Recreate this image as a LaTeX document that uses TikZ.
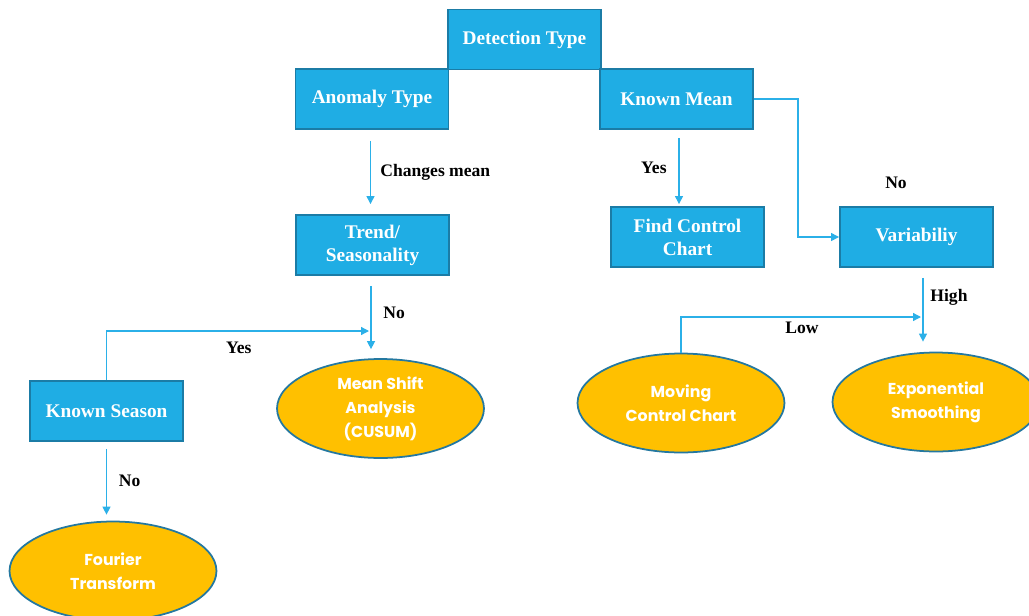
\documentclass[tikz,border=0pt]{standalone}
\usepackage{fontspec}
\setmainfont{Liberation Serif}
\newfontfamily\roundfont{Poppins}
\usetikzlibrary{arrows.meta,positioning,shapes.geometric}
\definecolor{skyfill}{HTML}{1FADE4}
\definecolor{skyedge}{HTML}{1B7CA6}
\definecolor{goldfill}{HTML}{FFC000}
\definecolor{goldedge}{HTML}{2478A0}
\definecolor{linkblue}{HTML}{2BB0E8}
\tikzset{
  stepbox/.style={
    rectangle, draw=skyedge, fill=skyfill, line width=1.1pt,
    minimum width=3.06cm, minimum height=1.2cm,
    text=white, font=\fontsize{11}{13}\selectfont\bfseries,
    align=center, inner sep=2pt
  },
  resultell/.style={
    ellipse, draw=goldedge, fill=goldfill, line width=1pt,
    minimum width=4.14cm, minimum height=1.98cm,
    text=white, font=\roundfont\fontsize{9}{13.6}\selectfont\bfseries,
    align=center, inner sep=0pt
  },
  flow/.style={
    -{Triangle[length=4.5pt,width=4.5pt]}, color=linkblue, line width=0.75pt
  },
  tag/.style={text=black, font=\fontsize{10}{12}\selectfont\bfseries, inner sep=1pt},
}
\begin{document}
\begin{tikzpicture}[x=0.02cm, y=-0.02cm]
    \clip (0,0) rectangle (1029,616);
    % decision boxes
    \node[stepbox] (detect) at (524.5,39.5) {Detection Type};
    \node[stepbox] (anomaly) at (372,99) {Anomaly Type};
    \node[stepbox] (knownmean) at (676.5,99) {Known Mean};
    \node[stepbox] (trend) at (372.5,245) {Trend/\\Seasonality};
    \node[stepbox] (findchart) at (687.5,237) {Find Control\\Chart};
    \node[stepbox] (variab) at (916.5,237) {Variabiliy};
    \node[stepbox] (knownseason) at (106.5,411) {Known Season};
    % methods
    \node[resultell] (meanshift) at (380.5,408.5) {Mean Shift\\Analysis\\(CUSUM)};
    \node[resultell] (fourier) at (113,571) {Fourier\\Transform};
    \node[resultell] (moving) at (681,403) {Moving\\Control Chart};
    \node[resultell] (expsmooth) at (936,402) {Exponential\\Smoothing};
    % helper points on the vertical lines
    \coordinate (joinA) at (371,331);
    \coordinate (meanfoot) at ([xshift=0.05cm]knownmean.south);
    \coordinate (varfoot) at ([xshift=0.13cm]variab.south);
    \coordinate (joinB) at (923,317);

    \draw[flow, shorten <=0.22cm, shorten >=0.2cm] ([xshift=-0.03cm]anomaly.south) -- ([xshift=-0.03cm]anomaly.south |- trend.north)
        node[tag, midway, right=0.15cm] (lblmean) {Changes mean};
    \draw[flow, shorten <=0.16cm, shorten >=0.04cm] (meanfoot) -- (meanfoot |- findchart.north)
        node[tag, midway, left=0.2cm] (lblyesA) {Yes};
    \draw[flow] (knownmean.east) -- ++(44,0) |- (variab.west);
    \node[tag] (lblnoA) at (896,183) {No};
    \draw[flow, shorten <=0.2cm, shorten >=0.18cm] ([xshift=-0.03cm]trend.south) -- ([xshift=-0.03cm]trend.south |- meanshift.north)
        node[tag, pos=0.45, right=0.2cm] (lblnoB) {No};
    \draw[flow, shorten >=0.04cm] (knownseason.north) |- (joinA)
        node[tag, pos=0.75, below=0.18cm] (lblyesB) {Yes};
    \draw[flow, shorten <=0.14cm, shorten >=0.12cm] (knownseason.south) -- (knownseason.south |- fourier.north)
        node[tag, midway, right=0.2cm] (lblnoC) {No};
    \draw[flow, shorten <=0.2cm, shorten >=0.2cm] (varfoot) -- (varfoot |- expsmooth.north)
        node[tag, pos=0.35, right=0.1cm] (lblhigh) {High};
    \draw[flow, shorten >=0.04cm] (moving.north) |- (joinB)
        node[tag, pos=0.75, below=0.05cm] (lbllow) {Low};
\end{tikzpicture}
\end{document}
